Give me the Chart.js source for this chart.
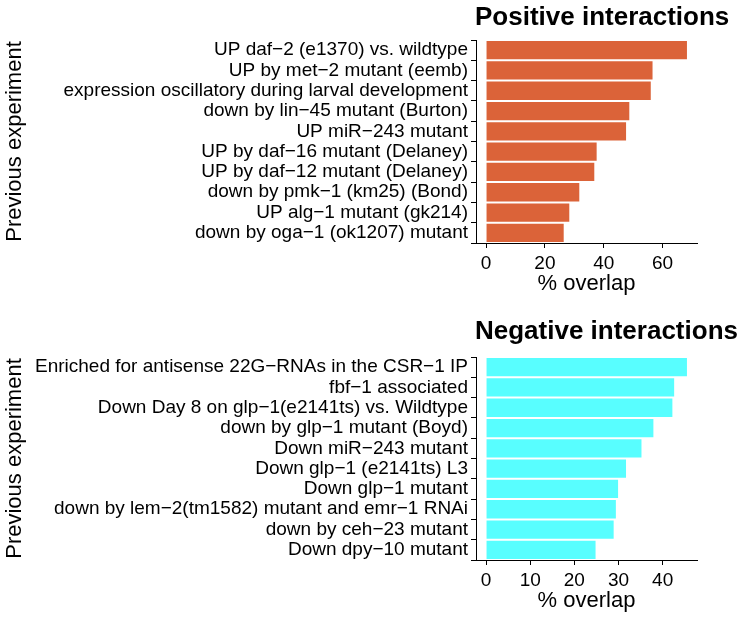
<!DOCTYPE html>
<html>
<head>
<meta charset="utf-8">
<script src="https://cdn.jsdelivr.net/npm/chart.js@4"></script>
<style>
  body { margin: 0; background: #fff; }
  canvas { display: block; }
</style>
</head>
<body>
<canvas id="pos" width="742" height="303"></canvas>
<canvas id="neg" width="742" height="317"></canvas>
<script>
// --- data ---
const posLabels = [
  'UP daf\u22122 (e1370) vs. wildtype',
  'UP by met\u22122 mutant (eemb)',
  'expression oscillatory during larval development',
  'down by lin\u221245 mutant (Burton)',
  'UP miR\u2212243 mutant',
  'UP by daf\u221216 mutant (Delaney)',
  'UP by daf\u221212 mutant (Delaney)',
  'down by pmk\u22121 (km25) (Bond)',
  'UP alg\u22121 mutant (gk214)',
  'down by oga\u22121 (ok1207) mutant'
];
const posValues = [68.3, 56.6, 56.0, 48.7, 47.6, 37.6, 36.8, 31.7, 28.3, 26.4];
const posTicks = [0, 20, 40, 60];

const negLabels = [
  'Enriched for antisense 22G\u2212RNAs in the CSR\u22121 IP',
  'fbf\u22121 associated',
  'Down Day 8 on glp\u22121(e2141ts) vs. Wildtype',
  'down by glp\u22121 mutant (Boyd)',
  'Down miR\u2212243 mutant',
  'Down glp\u22121 (e2141ts) L3',
  'Down glp\u22121 mutant',
  'down by lem\u22122(tm1582) mutant and emr\u22121 RNAi',
  'down by ceh\u221223 mutant',
  'Down dpy\u221210 mutant'
];
const negValues = [45.5, 42.6, 42.2, 37.9, 35.2, 31.7, 29.9, 29.4, 28.9, 24.8];
const negTicks = [0, 10, 20, 30, 40];

// --- helpers ---
const fontFamily = "'Liberation Sans', Arial, Helvetica, sans-serif";
Chart.defaults.font.family = fontFamily;
Chart.defaults.color = '#000';

// panel title, left-aligned to the plot area like ggplot
const panelTitle = {
  id: 'panelTitle',
  afterDraw(chart, args, opts) {
    const { ctx, chartArea } = chart;
    ctx.save();
    ctx.font = 'bold 26px ' + fontFamily;
    ctx.fillStyle = '#000';
    ctx.textBaseline = 'alphabetic';
    ctx.fillText(opts.text, chartArea.left - 1, chartArea.top - opts.gap);
    ctx.restore();
  }
};

function makeChart(id, title, labels, values, ticks, color, padTop, gap) {
  const hi = Math.max(...values);
  new Chart(document.getElementById(id), {
    type: 'bar',
    data: {
      labels,
      datasets: [{
        data: values,
        backgroundColor: color,
        borderWidth: 0,
        barPercentage: 0.9,
        categoryPercentage: 1
      }]
    },
    plugins: [panelTitle],
    options: {
      indexAxis: 'y',
      responsive: false,
      animation: false,
      layout: { padding: { top: padTop, right: 45, bottom: 0, left: 0 } },
      plugins: {
        legend: { display: false },
        tooltip: { enabled: false },
        panelTitle: { text: title, gap }
      },
      scales: {
        x: {
          min: -0.05 * hi,
          max: 1.05 * hi,
          afterBuildTicks: s => { s.ticks = ticks.map(v => ({ value: v })); },
          afterFit: s => { s.height = 60; },
          grid: { drawOnChartArea: false, tickLength: 5, color: '#000', lineWidth: 1 },
          border: { display: true, color: '#000', width: 1 },
          ticks: { font: { size: 19 }, color: '#000', padding: 4, maxRotation: 0 },
          title: { display: true, text: '% overlap', font: { size: 22 }, color: '#000', padding: { top: 0, bottom: 6 } }
        },
        y: {
          afterFit: s => { s.width = 476; },
          grid: { drawOnChartArea: false, tickLength: 5, color: '#000', lineWidth: 1 },
          border: { display: true, color: '#000', width: 1 },
          ticks: { font: { size: 19 }, color: '#000', padding: 3, autoSkip: false },
          title: { display: true, text: 'Previous experiment', font: { size: 22 }, color: '#000', padding: { top: 2, bottom: 0 } }
        }
      }
    }
  });
}

makeChart('pos', 'Positive interactions', posLabels, posValues, posTicks, '#DB6339', 40, 15.5);
makeChart('neg', 'Negative interactions', negLabels, negValues, negTicks, '#58FEFF', 54, 18.5);
</script>
</body>
</html>
